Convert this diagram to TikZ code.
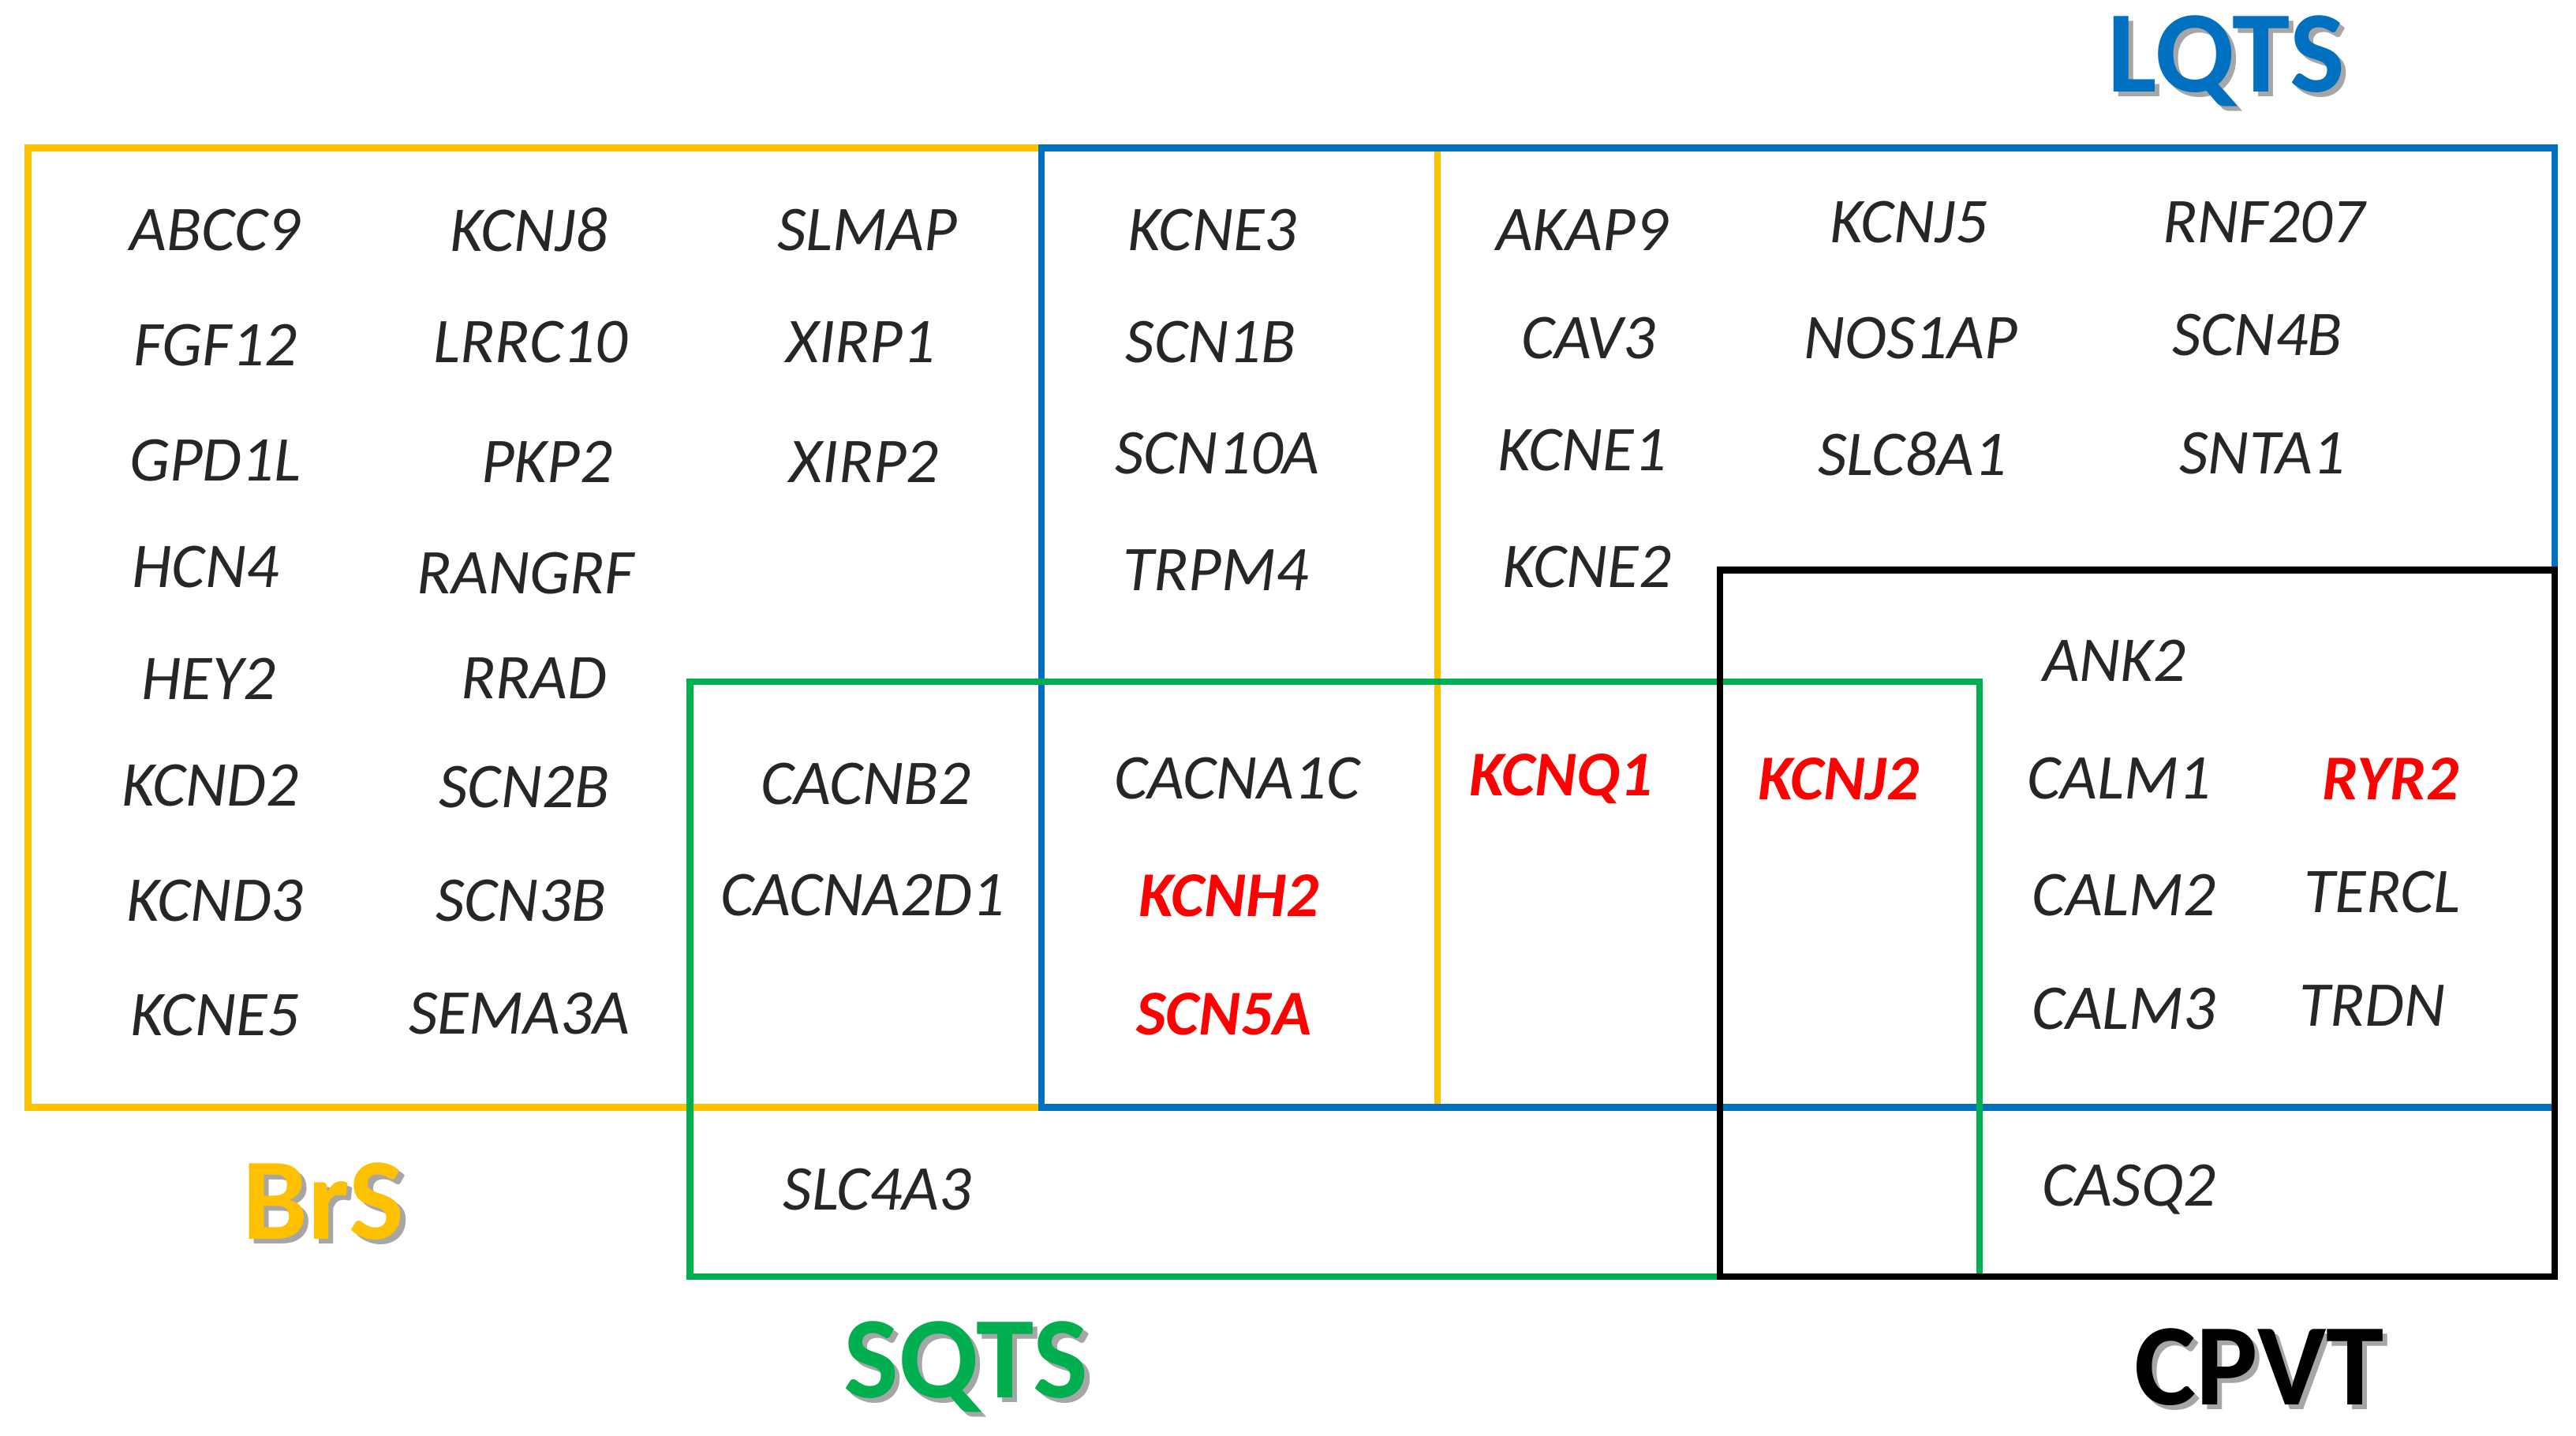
\documentclass[tikz,border=0pt]{standalone}
\usepackage{fontspec}
\setmainfont{Carlito}
\definecolor{brsY}{HTML}{FFC000}
\definecolor{lqtsB}{HTML}{0070C0}
\definecolor{sqtsG}{HTML}{00B050}
\definecolor{redG}{HTML}{FF0000}
\tikzset{
  gene/.style={font=\fontsize{23}{27}\selectfont\itshape, text=black!85, inner sep=0pt},
  keygene/.style={font=\fontsize{23}{27}\selectfont\bfseries\itshape, text=redG, inner sep=0pt},
  title/.style={font=\fontsize{42}{48}\selectfont\bfseries, inner sep=0pt},
  shadowtxt/.style={title, text=black!35},
  frame/.style={line width=2.4pt, line join=miter}
}
\begin{document}
\begin{tikzpicture}[x=0.020823cm, y=-0.020823cm]
\useasboundingbox[fill=white] (0,0) rectangle (1568,874);
% boxes
\draw[frame, brsY] (17,90) rectangle (875,674);
\draw[frame, lqtsB] (634,90) rectangle (1555,674);
\draw[frame, sqtsG] (420,415) rectangle (1205,777);
\draw[frame, black] (1047,347) rectangle (1555,777);
% titles with soft shadow
\node[shadowtxt] at (1358,40) {LQTS};
\node[title, text=lqtsB] (tLQTS) at (1355,37) {LQTS};
\node[shadowtxt] at (200,734) {BrS};
\node[title, text=brsY] (tBrS) at (197,731) {BrS};
\node[shadowtxt] at (591,835) {SQTS};
\node[title, text=sqtsG] (tSQTS) at (588,832) {SQTS};
\node[shadowtxt] at (1378,835) {CPVT};
\node[title, text=black] (tCPVT) at (1375,832) {CPVT};
% BrS only, column 1
\node[gene] (ABCC9) at (131,140) {ABCC9};
\node[gene] (FGF12) at (131,210) {FGF12};
\node[gene] (GPD1L) at (131,280) {GPD1L};
\node[gene] (HCN4) at (125,345) {HCN4};
\node[gene] (HEY2) at (127,413) {HEY2};
\node[gene] (KCND2) at (128,478) {KCND2};
\node[gene] (KCND3) at (131,548) {KCND3};
\node[gene] (KCNE5) at (131,618) {KCNE5};
% column 2
\node[gene] (KCNJ8) at (322,140) {KCNJ8};
\node[gene] (LRRC10) at (323,208) {LRRC10};
\node[gene] (PKP2) at (333,281) {PKP2};
\node[gene] (RANGRF) at (320,349) {RANGRF};
\node[gene] (RRAD) at (325,413) {RRAD};
\node[gene] (SCN2B) at (319,479) {SCN2B};
\node[gene] (SCN3B) at (317,548) {SCN3B};
\node[gene] (SEMA3A) at (316,617) {SEMA3A};
% column 3
\node[gene] (SLMAP) at (528,140) {SLMAP};
\node[gene] (XIRP1) at (524,208) {XIRP1};
\node[gene] (XIRP2) at (526,281) {XIRP2};
% BrS + SQTS
\node[gene] (CACNB2) at (527,477) {CACNB2};
\node[gene] (CACNA2D1) at (525,545) {CACNA2D1};
% SQTS only
\node[gene] (SLC4A3) at (534,724) {SLC4A3};
% BrS + LQTS
\node[gene] (KCNE3) at (738,140) {KCNE3};
\node[gene] (SCN1B) at (737,208) {SCN1B};
\node[gene] (SCN10A) at (741,276) {SCN10A};
\node[gene] (TRPM4) at (740,347) {TRPM4};
% BrS + LQTS + SQTS
\node[gene] (CACNA1C) at (753,474) {CACNA1C};
\node[keygene] (KCNH2) at (748,545) {KCNH2};
\node[keygene] (SCN5A) at (745,617) {SCN5A};
% LQTS + SQTS
\node[keygene] (KCNQ1) at (950,474) {KCNQ1};
% LQTS only
\node[gene] (AKAP9) at (963,140) {AKAP9};
\node[gene] (CAV3) at (967,206) {CAV3};
\node[gene] (KCNE1) at (963,274) {KCNE1};
\node[gene] (KCNE2) at (966,345) {KCNE2};
\node[gene] (KCNJ5) at (1162,135) {KCNJ5};
\node[gene] (NOS1AP) at (1163,206) {NOS1AP};
\node[gene] (SLC8A1) at (1164,276) {SLC8A1};
\node[gene] (RNF207) at (1378,135) {RNF207};
\node[gene] (SCN4B) at (1374,204) {SCN4B};
\node[gene] (SNTA1) at (1377,276) {SNTA1};
% LQTS + SQTS + CPVT
\node[keygene] (KCNJ2) at (1119,474) {KCNJ2};
% LQTS + CPVT
\node[gene] (ANK2) at (1287,402) {ANK2};
\node[gene] (CALM1) at (1290,474) {CALM1};
\node[gene] (CALM2) at (1293,545) {CALM2};
\node[gene] (CALM3) at (1293,614) {CALM3};
\node[keygene] (RYR2) at (1455,474) {RYR2};
\node[gene] (TERCL) at (1450,543) {TERCL};
\node[gene] (TRDN) at (1444,612) {TRDN};
% CPVT only
\node[gene] (CASQ2) at (1296,724) {CASQ2};
\end{tikzpicture}
\end{document}
